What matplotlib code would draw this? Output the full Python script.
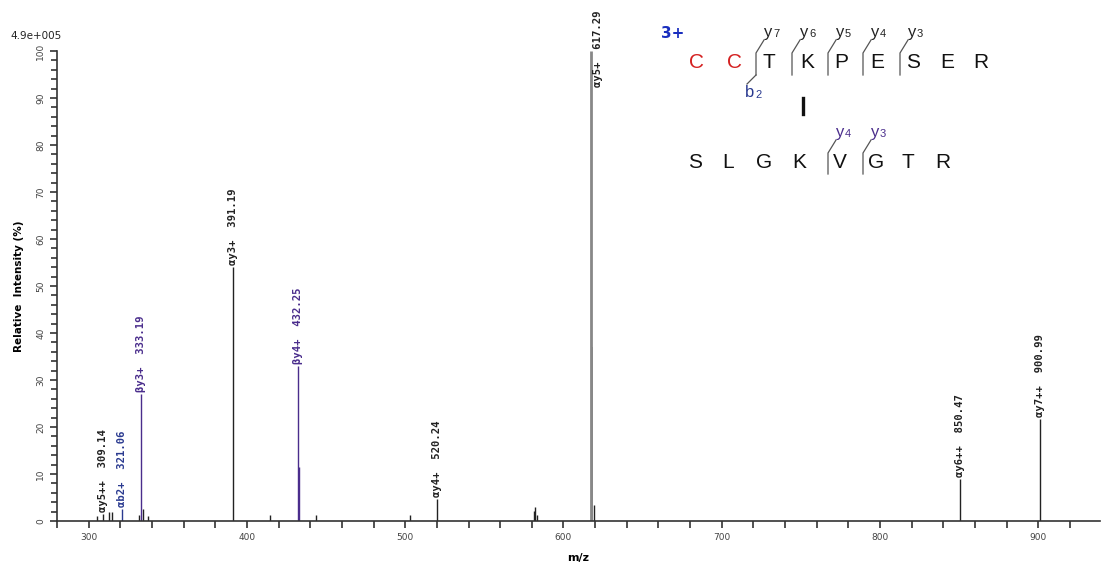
import matplotlib.pyplot as plt
from matplotlib.lines import Line2D

# unassigned peaks (m/z, relative intensity %)
other_mz = [305.5, 313.0, 315.0, 331.8, 334.1, 337.5, 414.5, 443.5, 502.8,
            581.2, 582.1, 583.5, 619.1]
other_int = [1.0, 2.0, 2.0, 1.3, 2.5, 1.0, 1.2, 1.2, 1.2,
             2.2, 3.0, 1.2, 3.5]
iso_mz = [433.2]          # isotope of βy4+
iso_int = [11.5]
iso617_mz = [618.2]       # isotope of αy5+
iso617_int = [37.0]

# assigned fragment ions
ion_mz = [309.14, 321.06, 333.19, 391.19, 432.25, 520.24, 617.29, 850.47, 900.99]
ion_int = [1.5, 2.5, 27.0, 54.0, 33.0, 4.7, 100.0, 9.0, 21.7]
ion_name = ["αy5++", "αb2+", "βy3+", "αy3+", "βy4+", "αy4+", "αy5+", "αy6++", "αy7++"]

black = "#222222"
blue = "#2a3a90"
purple = "#4a2d8c"
ion_color = [black, blue, purple, black, purple, black, "#888888", black, black]
label_color = [black, blue, purple, black, purple, black, black, black, black]

W, H = 1105, 567
fig = plt.figure(figsize=(W / 100, H / 100), dpi=100)
ax = fig.add_axes([57 / W, 1 - 521 / H, (1100 - 57) / W, (521 - 51) / H])

ax.vlines(other_mz, 0, other_int, color=black, lw=1.0)
ax.vlines(iso_mz, 0, iso_int, color=purple, lw=1.0)
ax.vlines(iso617_mz, 0, iso617_int, color="#777777", lw=1.2)
for mz, it, c in zip(ion_mz, ion_int, ion_color):
    ax.vlines(mz, 0, it, color=c, lw=2.0 if it >= 100 else 1.0)

for mz, it, name, c in zip(ion_mz, ion_int, ion_name, label_color):
    text = f"{name}  {mz:.2f}"
    # base peak label sits beside the line, the rest above their peaks
    off = (5, -26) if it >= 100 else (0, 1.5)
    ax.annotate(text, (mz, it), xytext=off, textcoords="offset points",
                rotation=90, ha="center", va="bottom", fontsize=7.6,
                family="DejaVu Sans Mono", weight="bold", color=c,
                annotation_clip=False)

ax.set_xlim(282, 939)
ax.set_ylim(0, 100)
ax.set_xticks(range(300, 1000, 100))
ax.set_xticks(range(280, 940, 20), minor=True)
ax.set_yticks(range(0, 101, 10))
ax.set_yticks(range(0, 101, 2), minor=True)
ax.tick_params(axis="both", which="both", direction="out", length=5, width=1.2,
               color="#333333", labelsize=6.5, labelcolor="#444444")
ax.tick_params(axis="y", which="minor", length=4)
for lab in ax.get_yticklabels():
    lab.set_rotation(90)
    lab.set_va("center")
ax.spines["top"].set_visible(False)
ax.spines["right"].set_visible(False)
for s in ("left", "bottom"):
    ax.spines[s].set_color("#333333")
    ax.spines[s].set_linewidth(1.2)

ax.set_xlabel("m/z", fontsize=8, weight="bold", labelpad=8)
ax.set_ylabel("Relative  Intensity (%)", fontsize=7.5, weight="bold", labelpad=9)
fig.text(10 / W, 1 - 36 / H, "4.9e+005", fontsize=7.5, va="center", color="#222222")


# cross-linked peptide sequence with fragment markers
def px(x, y):
    return x / W, 1 - y / H


seq_font = dict(fontsize=15, family="Liberation Sans", ha="center", va="center")
fig.text(*px(673, 33), "3+", fontsize=11, weight="bold", color="#1a2fbf",
         ha="center", va="center")

top_seq = ["C", "C", "T", "K", "P", "E", "S", "E", "R"]
top_x = [697, 734, 769, 807, 841, 877, 913, 947, 981]
top_col = ["#d42020", "#d42020"] + ["#111111"] * 7
for ch, x, c in zip(top_seq, top_x, top_col):
    fig.text(*px(x, 62), ch, color=c, **seq_font)

bot_seq = ["S", "L", "G", "K", "V", "G", "T", "R"]
bot_x = [695, 728, 764, 799, 840, 876, 908, 943]
for ch, x in zip(bot_seq, bot_x):
    fig.text(*px(x, 162), ch, color="#111111", **seq_font)


def draw_path(pts, lw=0.9, color="#555555"):
    fig.add_artist(Line2D([px(a, b)[0] for a, b in pts],
                          [px(a, b)[1] for a, b in pts], color=color, lw=lw))


def ion_label(x, y, ion, num, color):
    fig.text(*px(x, y), ion, color=color, fontsize=12, family="Liberation Sans",
             ha="center", va="center")
    fig.text(*px(x + 5, y + 2), num, color=color, fontsize=8,
             family="Liberation Sans", ha="left", va="center")


def marker(x, y_top, y_bot, num, color):
    draw_path([(x + 8, y_top - 13), (x, y_top), (x, y_bot)])
    ion_label(x + 12, y_top - 21, "y", num, color)


marker(756, 53, 75, "7", "#222222")
draw_path([(756, 75), (747, 84)])
ion_label(750, 93, "b", "2", blue)
marker(792, 53, 75, "6", "#222222")
marker(828, 53, 75, "5", "#222222")
marker(863, 53, 75, "4", "#222222")
marker(900, 53, 75, "3", "#222222")
marker(828, 153, 174, "4", purple)
marker(863, 153, 174, "3", purple)

# cross-link bond
draw_path([(803, 98), (803, 114)], lw=2.4, color="#111111")

fig.savefig("out.png", dpi=100)
